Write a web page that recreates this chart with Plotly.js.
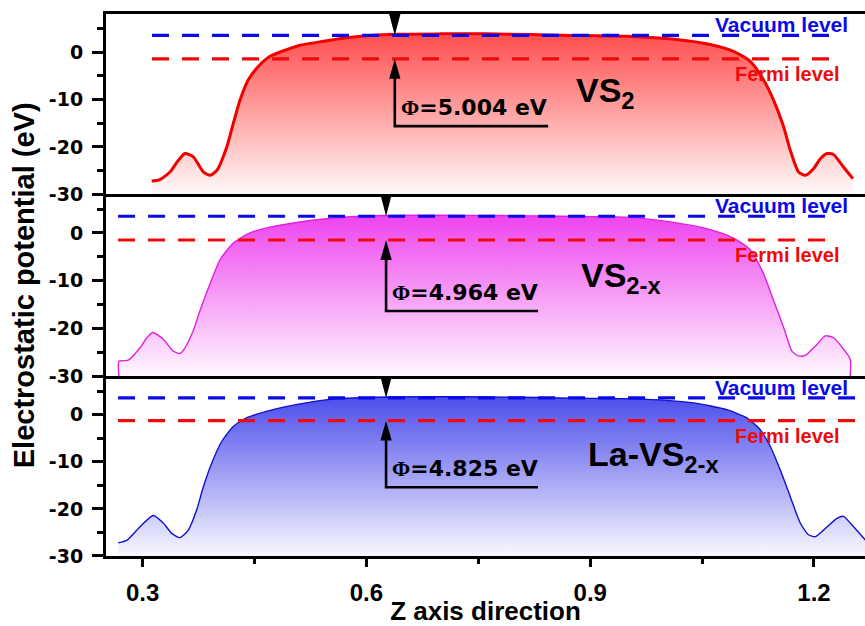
<!DOCTYPE html>
<html>
<head>
<meta charset="utf-8">
<script src="https://cdn.plot.ly/plotly-3.0.1.min.js"></script>
<style>
  html, body { margin: 0; padding: 0; background: #fff; overflow: hidden; }
  #chart { width: 865px; height: 626px; }
</style>
</head>
<body>
<div id="chart"></div>
<script>
// Planar-averaged electrostatic potential along z for the three slabs.
const zVS2 = [0.312, 0.3232, 0.3366, 0.347, 0.3567, 0.3679, 0.3813, 0.3903, 0.3992, 0.4127, 0.4215, 0.4305, 0.4416, 0.455, 0.4707, 0.493, 0.511, 0.5334, 0.5736, 0.6049, 0.6407, 0.70, 0.76, 0.82, 0.8597, 0.9491, 1.0162, 1.0609, 1.0921, 1.1145, 1.1323, 1.1458, 1.1592, 1.1682, 1.1793, 1.1883, 1.1994, 1.2085, 1.2174, 1.2262, 1.2397, 1.2522];
const vVS2 = [-27.2, -26.9, -25.3, -23.0, -21.4, -22.1, -25.3, -26.0, -25.0, -20.0, -15.0, -10.1, -5.8, -3.0, -0.85, 0.57, 1.5, 2.1, 3.06, 3.55, 3.83, 3.9, 3.9, 3.75, 3.6, 3.4, 2.7, 1.64, 0.21, -1.9, -5.8, -10.1, -15.7, -20.7, -25.3, -26.0, -24.6, -22.5, -21.4, -21.6, -24.3, -26.7];

const zVS2x = [0.2682, 0.2682, 0.2807, 0.2964, 0.305, 0.3134, 0.3276, 0.341, 0.35, 0.3567, 0.3679, 0.3769, 0.3903, 0.4037, 0.4215, 0.4439, 0.4663, 0.511, 0.578, 0.6263, 0.70, 0.78, 0.8597, 0.9491, 1.0162, 1.0609, 1.0921, 1.1145, 1.1323, 1.1458, 1.1592, 1.1704, 1.1793, 1.1883, 1.204, 1.2151, 1.2262, 1.2397, 1.2486, 1.2486];
const vVS2x = [-30, -26.8, -26.6, -24.0, -22.0, -20.8, -22.2, -24.7, -25.2, -24.0, -20.4, -16.2, -10.6, -5.6, -2.1, 0, 1.06, 2.3, 3.38, 3.66, 3.7, 3.65, 3.5, 3.3, 2.1, 0.7, -1.06, -3.5, -8.5, -14.1, -19.7, -24.7, -25.7, -25.6, -23.3, -21.5, -21.9, -24.3, -26.4, -30];

const zLaVS2x = [0.2673, 0.2785, 0.2964, 0.3142, 0.3276, 0.3389, 0.35, 0.3612, 0.3724, 0.3813, 0.3925, 0.4059, 0.4215, 0.4391, 0.4659, 0.511, 0.5556, 0.6263, 0.72, 0.80, 0.8597, 0.9714, 1.0385, 1.0833, 1.1101, 1.1279, 1.1413, 1.1547, 1.1682, 1.1816, 1.1927, 1.2017, 1.2128, 1.2308, 1.2397, 1.2486, 1.2688];
const vLaVS2x = [-27.2, -26.7, -23.8, -21.4, -23.0, -25.2, -26.1, -24.5, -20.2, -15.3, -10.3, -5.7, -2.5, -0.7, 0.7, 2.3, 3.3, 3.75, 3.8, 3.7, 3.55, 3.3, 2.5, 1.06, -0.7, -3.2, -6.7, -11.7, -17.4, -23.0, -25.5, -25.9, -24.5, -22.0, -21.6, -23.0, -26.6];

// Labels, work functions and reference levels for each panel (top to bottom).
const sampleNames = ['VS<sub>2</sub>', 'VS<sub>2-x</sub>', 'La-VS<sub>2-x</sub>'];
const workFunction = [5.004, 4.964, 4.825];
const vacuumLevel = [3.6, 3.5, 3.55];
const fermiLevel = vacuumLevel.map((v, i) => v - workFunction[i]);
const levelStart = [0.3125, 0.267, 0.267];
const levelEnd = [1.2255, 1.2188, 1.262];
const arrowZ = [0.638, 0.6263, 0.6263];
const bracketEndZ = [0.8436, 0.83, 0.83];
const bracketLevel = [-15.6, -16.3, -15.4];

// Axis ticks
const yTickVals = [-30, -20, -10, 0];
const yTickText = ['-30', '-20', '-10', '0'];
const yMinorVals = [-25, -15, -5, 5];
const xTickVals = [0.3, 0.6, 0.9, 1.2];
const xTickText = ['0.3', '0.6', '0.9', '1.2'];
const xMinorVals = [0.45, 0.75, 1.05];

const curves = [
  { z: zVS2, v: vVS2, color: '#f20000', width: 3, top: 'rgb(255,78,78)', bottom: 'rgb(255,250,250)' },
  { z: zVS2x, v: vVS2x, color: '#e020e0', width: 1.4, top: 'rgb(238,66,238)', bottom: 'rgb(255,248,255)' },
  { z: zLaVS2x, v: vLaVS2x, color: '#1010d0', width: 1.4, top: 'rgb(76,76,235)', bottom: 'rgb(248,248,255)' }
];

const yMin = -30, yMax = 8.1;
const xMin = 0.2508, xMax = 1.2684;
const BLUE = '#0a0ae6', RED = '#ee0a0a';
const axisSuffix = ['', '2', '3'];

const traces = [];
curves.forEach((c, i) => {
  const xa = 'x' + axisSuffix[i], ya = 'y' + axisSuffix[i];
  // baseline at the bottom of the panel, so the curve can fill down to it
  traces.push({
    x: [c.z[0], c.z[c.z.length - 1]], y: [yMin, yMin],
    xaxis: xa, yaxis: ya, mode: 'lines', line: { width: 0 }, hoverinfo: 'skip'
  });
  traces.push({
    x: c.z, y: c.v, xaxis: xa, yaxis: ya, mode: 'lines',
    line: { color: c.color, width: c.width, shape: 'spline', smoothing: 0.6 },
    fill: 'tonexty',
    fillgradient: { type: 'vertical', start: yMin, stop: 4, colorscale: [[0, c.bottom], [1, c.top]] }
  });
});

const shapes = [];
const annotations = [];
const arrowHalfW = 0.0076, headLen = 4.2;
curves.forEach((c, i) => {
  const xr = 'x' + axisSuffix[i], yr = 'y' + axisSuffix[i];
  // vacuum and Fermi levels
  shapes.push({ type: 'line', xref: xr, yref: yr, x0: levelStart[i], x1: levelEnd[i], y0: vacuumLevel[i], y1: vacuumLevel[i],
    line: { color: BLUE, width: 3.2, dash: '17px,13px' } });
  shapes.push({ type: 'line', xref: xr, yref: yr, x0: levelStart[i], x1: levelEnd[i], y0: fermiLevel[i], y1: fermiLevel[i],
    line: { color: RED, width: 3.2, dash: '17px,13px' } });
  // downward arrowhead onto the vacuum level
  const ax = arrowZ[i];
  shapes.push({ type: 'path', xref: xr, yref: yr, fillcolor: '#000', line: { width: 0 },
    path: `M${ax - arrowHalfW},${yMax} L${ax + arrowHalfW},${yMax} L${ax},${vacuumLevel[i]} Z` });
  // upward arrowhead onto the Fermi level
  const hb = fermiLevel[i] - headLen;
  shapes.push({ type: 'path', xref: xr, yref: yr, fillcolor: '#000', line: { width: 0 },
    path: `M${ax - arrowHalfW},${hb} L${ax + arrowHalfW},${hb} L${ax},${fermiLevel[i]} Z` });
  // bracket under the work-function label
  shapes.push({ type: 'path', xref: xr, yref: yr, line: { color: '#000', width: 2.6 },
    path: `M${bracketEndZ[i]},${bracketLevel[i]} L${ax},${bracketLevel[i]} L${ax},${hb + 0.5}` });

  annotations.push({ xref: xr, yref: yr, x: ax + 0.005, y: bracketLevel[i] + 3.9, xanchor: 'left', yanchor: 'middle', showarrow: false,
    text: `<span style="font-family:'Liberation Serif'">Φ</span>=${workFunction[i].toFixed(3)} eV`,
    font: { family: 'DejaVu Sans', size: 22, color: '#000', weight: 'bold' } });
  annotations.push({ xref: xr, yref: yr, x: 1.157, y: vacuumLevel[i] + 2.2, xanchor: 'center', yanchor: 'middle', showarrow: false,
    text: 'Vacuum level', font: { family: 'Liberation Sans', size: 21, color: BLUE, weight: 'bold' } });
  annotations.push({ xref: xr, yref: yr, x: 1.165, y: fermiLevel[i] - 3.2, xanchor: 'center', yanchor: 'middle', showarrow: false,
    text: 'Fermi level', font: { family: 'Liberation Sans', size: 20, color: RED, weight: 'bold' } });
  annotations.push({ xref: xr, yref: yr, x: [0.8818, 0.8885, 0.8979][i] - 0.004, y: [-8.5, -9.4, -8.9][i], xanchor: 'left', yanchor: 'middle', showarrow: false,
    text: sampleNames[i], font: { family: 'Liberation Sans', size: 34, color: '#000', weight: 'bold' } });
});

const domains = [[0.6675, 1], [0.3312, 0.6675], [0, 0.3312]];
const tickFontY = { family: 'DejaVu Sans', size: 19, color: '#000', weight: 'bold' };
const layout = {
  width: 865, height: 626,
  margin: { l: 106, r: 0, t: 14, b: 70 },
  paper_bgcolor: '#fff', plot_bgcolor: '#fff',
  showlegend: false,
  shapes: shapes,
  annotations: annotations
};
for (let i = 0; i < 3; i++) {
  const s = axisSuffix[i];
  const bottom = i === 2;
  layout['xaxis' + s] = {
    anchor: 'y' + s, domain: [0, 1], range: [xMin, xMax],
    // only the top panel draws its own upper border; the lower panels share
    // the bottom border of the panel above
    showline: true, linewidth: 3, linecolor: '#000', mirror: i === 0,
    showgrid: false, zeroline: false,
    showticklabels: bottom, ticks: bottom ? 'outside' : '',
    tickmode: 'array', tickvals: xTickVals, ticktext: xTickText,
    ticklen: 8, tickwidth: 3, tickcolor: '#000', ticklabelstandoff: 5,
    tickfont: { family: 'Liberation Sans', size: 24, color: '#000', weight: 'bold' },
    minor: bottom ? { tickmode: 'array', tickvals: xMinorVals, ticks: 'outside', ticklen: 5, tickwidth: 3, tickcolor: '#000' } : undefined,
    title: bottom ? { text: 'Z axis direction', standoff: 6,
      font: { family: 'Liberation Sans', size: 26, color: '#000', weight: 'bold' } } : undefined
  };
  if (i > 0) layout['xaxis' + s].matches = 'x';
  layout['yaxis' + s] = {
    anchor: 'x' + s, domain: domains[i], range: [yMin, yMax],
    showline: true, linewidth: 3, linecolor: '#000', mirror: false,
    showgrid: false, zeroline: false,
    ticks: 'outside', ticklen: 11, tickwidth: 3, tickcolor: '#000', ticklabelstandoff: 5,
    tickmode: 'array', tickvals: yTickVals, ticktext: yTickText,
    tickfont: tickFontY,
    minor: { tickmode: 'array', tickvals: yMinorVals, ticks: 'outside', ticklen: 6, tickwidth: 3, tickcolor: '#000' },
    title: i === 1 ? { text: 'Electrostatic potential (eV)', standoff: 6,
      font: { family: 'Liberation Sans', size: 29, color: '#000', weight: 'bold' } } : undefined
  };
}

Plotly.newPlot('chart', traces, layout, { displayModeBar: false, staticPlot: true });
</script>
</body>
</html>
